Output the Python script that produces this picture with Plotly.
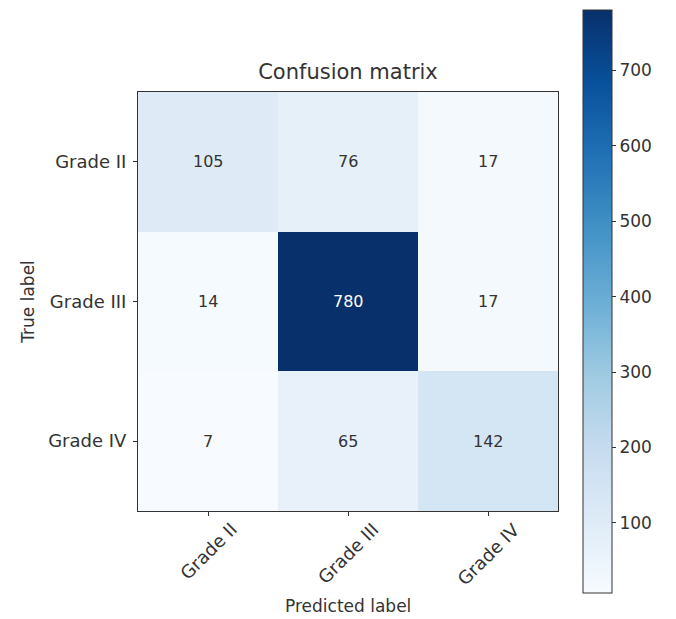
import plotly.graph_objects as go

# Confusion matrix counts (rows = true label, columns = predicted label)
classes = ["Grade II", "Grade III", "Grade IV"]
counts = [
    [105, 76, 17],
    [14, 780, 17],
    [7, 65, 142],
]
cbar_ticks = [100, 200, 300, 400, 500, 600, 700]

# matplotlib-style "Blues" (ColorBrewer 9-class)
blues = [
    [0.000, "rgb(247,251,255)"],
    [0.125, "rgb(222,235,247)"],
    [0.250, "rgb(198,219,239)"],
    [0.375, "rgb(158,202,225)"],
    [0.500, "rgb(107,174,214)"],
    [0.625, "rgb(66,146,198)"],
    [0.750, "rgb(33,113,181)"],
    [0.875, "rgb(8,81,156)"],
    [1.000, "rgb(8,48,107)"],
]

FONT = "DejaVu Sans"
INK = "#333333"
zmin = min(min(r) for r in counts)
zmax = max(max(r) for r in counts)

fig = go.Figure(
    go.Heatmap(
        z=counts,
        x=classes,
        y=classes,
        colorscale=blues,
        zmin=zmin,
        zmax=zmax,
        showscale=True,
        colorbar=dict(
            x=(583 - 138) / 420,
            xanchor="left",
            xpad=0,
            y=0.5,
            yanchor="middle",
            ypad=0,
            thickness=29,
            lenmode="pixels",
            len=583,
            outlinecolor=INK,
            outlinewidth=1,
            tickmode="array",
            tickvals=cbar_ticks,
            ticks="outside",
            ticklen=4,
            tickcolor=INK,
            tickfont=dict(family=FONT, size=17, color=INK),
        ),
        hoverinfo="skip",
    )
)

# Cell counts: white on dark cells, dark on light cells
thresh = zmax / 2.0
for i, row in enumerate(counts):
    for j, v in enumerate(row):
        fig.add_annotation(
            x=classes[j], y=classes[i], xref="x", yref="y",
            text=str(v), showarrow=False,
            font=dict(family=FONT, size=16, color="white" if v > thresh else INK),
        )

# Rotated x tick labels, centred under each tick
for c in classes:
    fig.add_annotation(
        x=c, y=0, xref="x", yref="paper",
        text=c, showarrow=False, textangle=-45,
        xanchor="center", yanchor="top", yshift=-5,
        font=dict(family=FONT, size=18, color=INK),
    )

fig.add_annotation(
    x=0.5, y=0, xref="paper", yref="paper",
    text="Predicted label", showarrow=False,
    xanchor="center", yanchor="middle", yshift=-95,
    font=dict(family=FONT, size=17, color=INK),
)

axis_common = dict(
    showline=True, mirror=True, linecolor=INK, linewidth=1,
    ticks="outside", ticklen=4, tickcolor=INK,
    showgrid=False, zeroline=False,
)

fig.update_xaxes(
    range=[-0.5, 2.5], showticklabels=False, constrain="domain", **axis_common
)
fig.update_yaxes(
    range=[2.5, -0.5],
    tickfont=dict(family=FONT, size=18, color=INK),
    ticklabelstandoff=3,
    title=dict(text="True label", standoff=9, font=dict(family=FONT, size=17, color=INK)),
    **axis_common,
)

fig.update_layout(
    width=676,
    height=619,
    margin=dict(l=138, r=118, t=92, b=108),
    paper_bgcolor="white",
    plot_bgcolor="white",
    font=dict(family=FONT, color=INK),
    title=dict(
        text="Confusion matrix",
        x=348 / 676, xanchor="center",
        y=1 - 72 / 619, yanchor="middle",
        font=dict(family=FONT, size=21, color=INK),
    ),
)

fig.write_html("out.html")
